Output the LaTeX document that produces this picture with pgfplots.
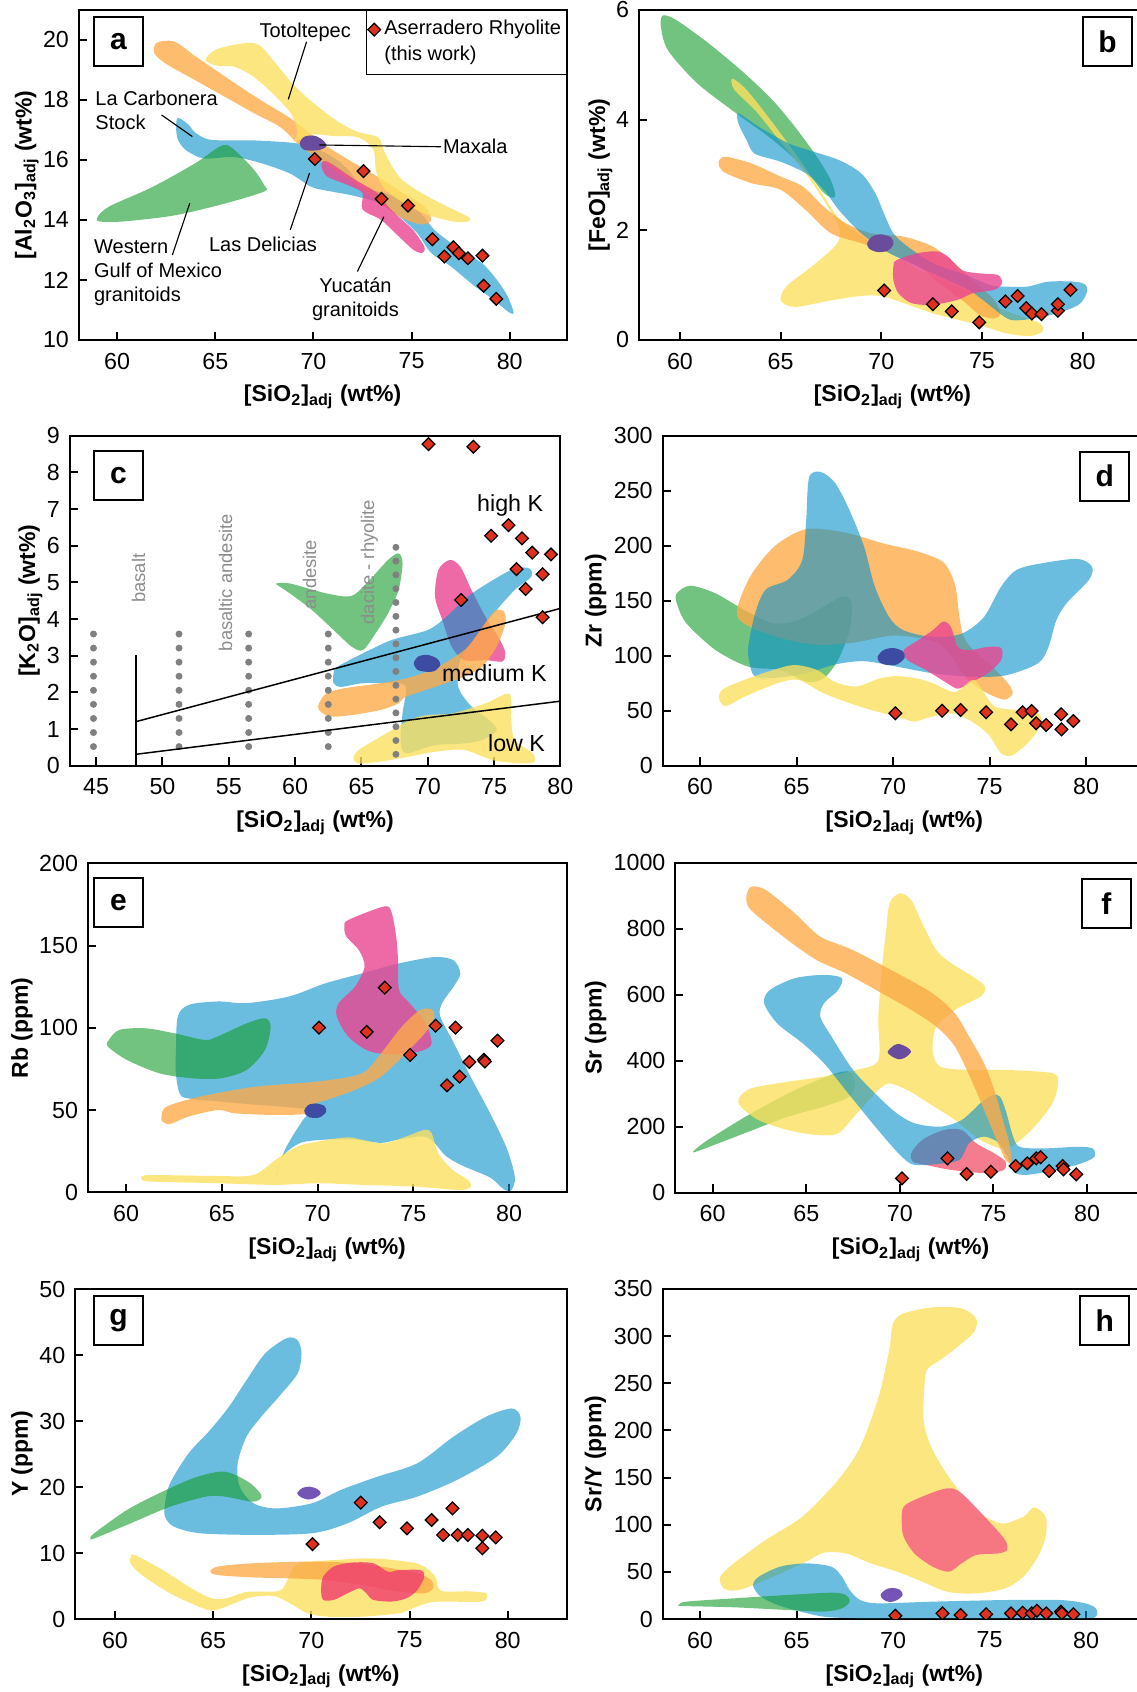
\documentclass[border=0pt]{standalone}
\usepackage{fontspec}
\setmainfont{Liberation Sans}
\usepackage{pgfplots}
\pgfplotsset{compat=1.18}

% field colours
\definecolor{cyel}{HTML}{FBE060}
\definecolor{corg}{HTML}{FCAB4A}
\definecolor{cblu}{HTML}{0891CB}
\definecolor{cgrn}{HTML}{149B2A}
\definecolor{cpnk}{HTML}{EA4591}
\definecolor{csal}{HTML}{F15B72}
\definecolor{cros}{HTML}{EF3B6F}
\definecolor{crsh}{HTML}{F55A84}
\definecolor{cpur}{HTML}{6A4C9C}
\definecolor{cind}{HTML}{3E4BA2}
\definecolor{cvio}{HTML}{7455B5}
\definecolor{cred}{HTML}{E0301E}
\definecolor{cdot}{HTML}{808080}
\definecolor{clab}{HTML}{8C8C8C}

\newcommand\annfont{\fontsize{8}{9.6}\selectfont}
\newcommand\kfont{\fontsize{9.3}{11}\selectfont}
\newcommand\rockfont{\fontsize{7.35}{8.8}\selectfont}

\tikzset{
  lead/.style={line width=0.45pt, black},
  ann/.style={font=\annfont, inner sep=0pt},
  lbl/.style={draw, line width=0.8pt, fill=white, minimum width=19.6pt,
    minimum height=19.6pt, inner sep=0pt, font=\bfseries\fontsize{12}{12}\selectfont},
}

\pgfplotsset{
  panel/.style={
    scale only axis, anchor=south west,
    axis line style={line width=0.8pt},
    every tick/.style={black, line width=0.8pt},
    major tick length=3.3pt,
    tick pos=left, tick align=inside,
    scaled ticks=false,
    /pgf/number format/assume math mode=true,
    /pgf/number format/1000 sep={},
    ticklabel style={font=\fontsize{9.3}{11}\selectfont},
    xticklabel style={yshift=-1.6pt},
    yticklabel style={xshift=-0.4pt},
    xlabel={[SiO\textsubscript{2}]\textsubscript{adj} (wt\%)},
    label style={font=\bfseries\fontsize{9.2}{11}\selectfont},
    xlabel style={at={(axis description cs:0.5,0)}, anchor=base, yshift=-24.8pt},
    clip=true,
  },
  % translucent fields: light ones at 80%, the blue and green ones at 60%
  blob/.style={forget plot, draw=none, fill=#1, fill opacity=0.8, smooth cycle},
  veil/.style={forget plot, draw=none, fill=#1, fill opacity=0.6, smooth cycle},
  core/.style={forget plot, draw=none, fill=#1, smooth cycle},
  samp/.style={only marks, mark=square*, mark size=1.8pt,
    mark options={rotate=45, fill=cred, draw=black, line width=0.5pt}},
}

\begin{document}
\begin{tikzpicture}[x=0.4pt, y=0.4pt]
\useasboundingbox (0,0) rectangle (1137,1692);
\clip (0,0) rectangle (1137,1692);

% ---------------- (a) Al2O3 ----------------
\begin{axis}[panel, at={(31.48pt,540.8pt)}, width=195.16pt, height=132pt,
  xmin=58.04, xmax=82.9, ymin=10, ymax=21,
  xtick={60,65,...,80}, ytick={10,12,...,20},
  ylabel={[Al\textsubscript{2}O\textsubscript{3}]\textsubscript{adj} (wt\%)},
  ylabel style={at={(axis description cs:-0.0967,0.5)}, anchor=base},
  legend style={at={(1,1)}, anchor=north east, draw=black, line width=0.4pt,
    fill=none, inner xsep=0.5pt, inner ysep=2.5pt, font=\annfont,
    nodes={inner sep=1.5pt}},
  legend cell align=left,
  legend image code/.code={\draw[#1] plot coordinates {(0pt,0pt)};}]
\addplot[veil=cblu] coordinates {(63.1,17.4) (63.6,17.2) (64.0,16.9) (64.8,16.67) (67.0,16.65) (69.2,16.55) (70.3,16.33) (71.2,16.0) (71.8,15.65) (72.5,15.1) (73.6,14.9) (74.7,14.65) (75.5,14.2) (76.2,13.65) (77.3,13.1) (78.6,12.55) (79.35,12.0) (79.9,11.45) (80.2,10.9) (79.9,10.95) (79.2,11.33) (78.2,11.8) (77.0,12.45) (76.0,12.9) (75.3,13.55) (74.4,14.1) (73.4,14.55) (72.1,14.8) (70.9,14.95) (69.9,15.1) (68.8,15.55) (67.3,15.9) (65.9,16.1) (64.4,16.05) (63.5,16.33) (63.1,16.67) (63.0,17.1)};
\addplot[veil=cgrn] coordinates {(59.0,14.1) (59.6,14.45) (61.8,15.1) (64.0,15.9) (65.1,16.4) (65.6,16.5) (66.2,16.2) (67.0,15.65) (67.5,15.15) (67.5,14.95) (65.5,14.55) (62.9,14.15) (60.3,13.95) (59.1,13.95)};
\addplot[blob=corg] coordinates {(62.0,19.9) (62.9,19.95) (64.0,19.45) (65.9,18.6) (67.3,18.0) (68.8,17.4) (69.7,16.95) (70.7,16.45) (71.8,16.0) (73.25,15.45) (74.55,14.9) (75.65,14.45) (76.0,14.0) (75.5,13.85) (74.4,14.1) (72.9,14.8) (71.8,15.35) (70.3,16.0) (69.2,16.55) (68.3,17.1) (67.0,17.55) (65.5,18.1) (64.0,18.65) (62.5,19.2) (61.9,19.55)};
\addplot[blob=cyel] coordinates {(64.5,19.35) (65.1,19.7) (66.6,19.9) (67.3,19.8) (68.1,19.2) (69.0,18.5) (70.0,17.9) (71.2,17.3) (72.2,16.95) (73.3,16.75) (73.6,16.3) (74.0,15.8) (74.5,15.35) (75.5,14.9) (76.8,14.45) (77.9,14.1) (77.9,13.95) (77.1,13.95) (75.7,14.2) (74.4,14.65) (73.6,15.05) (73.2,15.6) (73.05,16.35) (72.3,16.75) (71.0,16.8) (69.9,16.85) (69.0,16.6) (69.2,16.9) (68.9,17.5) (68.1,18.1) (67.0,18.75) (66.0,19.1) (65.0,19.15)};
\addplot[blob=cpnk] coordinates {(70.5,15.95) (70.85,15.9) (72.1,15.35) (73.25,14.9) (73.8,14.45) (74.35,14.1) (75.1,13.65) (75.65,13.1) (75.55,12.9) (75.1,13.0) (74.35,13.45) (73.45,14.0) (72.5,14.35) (72.5,14.9) (71.8,15.15) (70.7,15.45) (70.4,15.8)};
\addplot[core=cpur] coordinates {(69.3,16.55) (69.55,16.78) (70.1,16.8) (70.55,16.62) (70.65,16.45) (70.3,16.33) (69.55,16.33)};
\addplot[samp] coordinates {(70.07,16.03) (72.55,15.63) (73.47,14.70) (74.82,14.48) (76.06,13.36) (76.67,12.78) (77.13,13.09) (77.41,12.89) (77.87,12.72) (78.61,12.81) (78.67,11.81) (79.32,11.37)};
\addlegendentry{Aserradero Rhyolite}
\addlegendimage{empty legend}
\addlegendentry{(this work)}
% labels of the fields and their leader lines
\draw[lead] (axis cs:69.65,19.94) -- (axis cs:68.72,18.02);
\draw[lead] (axis cs:62.26,17.5) -- (axis cs:63.83,16.78);
\draw[lead] (axis cs:70.3,16.5) -- (axis cs:76.49,16.44);
\draw[lead] (axis cs:68.82,13.67) -- (axis cs:69.8,15.56);
\draw[lead] (axis cs:62.81,12.83) -- (axis cs:63.7,14.56);
\draw[lead] (axis cs:72.24,12.28) -- (axis cs:73.59,14.11);
\node[ann, anchor=base] at (axis cs:69.58,20.09) {Totoltepec};
\node[ann, anchor=base west] at (axis cs:58.87,17.8) {La Carbonera};
\node[ann, anchor=base west] at (axis cs:58.87,17.02) {Stock};
\node[ann, anchor=base west] at (axis cs:76.58,16.22) {Maxala};
\node[ann, anchor=base west] at (axis cs:64.66,12.94) {Las Delicias};
\node[ann, anchor=base west] at (axis cs:58.8,12.87) {Western};
\node[ann, anchor=base west] at (axis cs:58.8,12.09) {Gulf of Mexico};
\node[ann, anchor=base west] at (axis cs:58.8,11.28) {granitoids};
\node[ann, anchor=base] at (axis cs:72.14,11.58) {Yucatán};
\node[ann, anchor=base] at (axis cs:72.14,10.78) {granitoids};
\end{axis}

% ---------------- (b) FeO ----------------
\begin{axis}[panel, at={(255.56pt,540.8pt)}, width=202.84pt, height=132pt,
  xmin=57.96, xmax=83.15, ymin=0, ymax=6,
  xtick={60,65,...,80}, ytick={0,2,4,6},
  ylabel={[FeO]\textsubscript{adj} (wt\%)},
  ylabel style={at={(axis description cs:-0.0667,0.5)}, anchor=base}]
\addplot[veil=cgrn] coordinates {(59.15,5.9) (59.8,5.82) (61.4,5.4) (63.2,4.85) (64.6,4.36) (65.7,3.88) (66.8,3.33) (67.5,2.9) (67.7,2.6) (67.15,2.67) (66.1,3.15) (64.6,3.64) (62.8,4.12) (60.85,4.67) (59.4,5.27) (59.05,5.7)};
\addplot[blob=cyel] coordinates {(62.6,4.75) (63.3,4.55) (64.6,3.95) (65.9,3.3) (67.0,2.7) (67.8,2.25) (68.6,2.0) (69.4,1.8) (70.6,1.55) (72.0,1.25) (73.5,1.0) (74.8,0.8) (75.7,0.6) (77.0,0.42) (77.9,0.3) (78.0,0.15) (77.3,0.07) (76.1,0.13) (74.9,0.27) (72.6,0.48) (70.2,0.78) (69.0,0.8) (67.5,0.72) (65.7,0.6) (65.0,0.72) (65.3,0.98) (66.6,1.35) (67.8,1.75) (67.9,2.05) (67.3,2.45) (66.2,3.05) (65.0,3.6) (63.8,4.15) (62.7,4.55)};
\addplot[blob=corg] coordinates {(61.95,3.27) (62.3,3.33) (63.55,3.21) (65.0,2.97) (66.1,2.79) (67.15,2.42) (68.25,2.12) (69.5,1.94) (71.1,1.88) (72.55,1.7) (73.65,1.39) (74.7,1.03) (75.6,0.73) (75.9,0.48) (75.6,0.39) (74.9,0.45) (74.2,0.67) (73.1,0.97) (71.85,1.33) (70.4,1.58) (69.0,1.76) (67.5,1.94) (66.25,2.36) (65.0,2.73) (63.55,2.85) (62.3,3.03) (61.95,3.15)};
\addplot[veil=cblu] coordinates {(62.9,4.12) (63.9,3.88) (65.35,3.58) (66.4,3.45) (67.9,3.27) (69.0,3.03) (69.7,2.67) (70.2,2.24) (70.6,1.94) (71.3,1.7) (72.6,1.39) (74.0,1.21) (75.4,1.0) (76.2,0.97) (77.25,0.97) (78.3,1.06) (79.6,1.06) (80.15,1.0) (80.2,0.85) (79.8,0.64) (78.7,0.48) (77.4,0.38) (76.5,0.36) (76.0,0.45) (75.25,0.67) (74.35,0.91) (73.3,1.09) (71.85,1.33) (70.4,1.58) (69.0,1.94) (67.9,2.36) (67.15,2.73) (66.25,3.03) (65.0,3.24) (63.7,3.39) (63.3,3.64) (62.9,3.94)};
\addplot[blob=cpnk] coordinates {(70.6,1.33) (70.75,1.45) (71.85,1.58) (72.75,1.61) (73.3,1.52) (74.0,1.27) (74.9,1.21) (75.8,1.18) (76.0,1.03) (75.6,0.91) (74.55,0.85) (73.8,0.73) (72.55,0.64) (71.5,0.67) (70.85,0.85) (70.6,1.09)};
\addplot[core=cpur] coordinates {(69.3,1.76) (69.55,1.88) (70.0,1.92) (70.5,1.86) (70.6,1.74) (70.3,1.62) (69.8,1.6) (69.4,1.66)};
\addplot[samp] coordinates {(70.14,0.90) (72.56,0.65) (73.50,0.52) (74.86,0.32) (76.16,0.70) (76.77,0.80) (77.20,0.58) (77.48,0.48) (77.96,0.47) (78.77,0.53) (78.77,0.65) (79.40,0.91)};
\end{axis}

% ---------------- (c) K2O ----------------
\begin{axis}[panel, at={(27.84pt,370.52pt)}, width=196.32pt, height=132pt,
  xmin=43, xmax=80, ymin=0, ymax=9,
  xtick={45,50,...,80}, ytick={0,...,9},
  ylabel={[K\textsubscript{2}O]\textsubscript{adj} (wt\%)},
  ylabel style={at={(axis description cs:-0.0703,0.5)}, anchor=base}]
\addplot[veil=cgrn] coordinates {(58.6,4.97) (59.6,4.97) (62.35,4.7) (64.25,4.63) (65.6,5.06) (67.0,5.61) (67.8,5.79) (68.1,5.52) (67.8,4.79) (67.0,4.15) (65.9,3.52) (65.1,3.15) (64.25,3.25) (62.9,3.7) (61.25,4.25) (59.6,4.7) (58.65,4.93)};
\addplot[blob=cpnk] coordinates {(70.55,4.61) (70.8,5.34) (71.65,5.61) (72.45,5.43) (73.3,4.79) (74.35,4.06) (75.45,3.43) (75.85,3.06) (75.6,2.84) (74.35,2.88) (72.75,2.88) (71.8,3.25) (71.1,3.97)};
\addplot[veil=cblu] coordinates {(62.9,2.52) (63.2,2.7) (65.1,3.06) (67.3,3.43) (70.0,3.7) (71.4,4.06) (73.0,4.61) (74.9,5.06) (76.55,5.38) (77.65,5.38) (77.8,5.15) (76.55,4.79) (75.2,4.25) (73.8,3.61) (72.45,2.88) (72.3,2.15) (73.3,1.61) (74.6,1.25) (75.2,0.97) (74.1,0.7) (72.5,0.6) (70.55,0.56) (68.35,0.34) (67.95,0.7) (68.1,1.43) (68.35,2.15) (67.3,2.25) (65.1,2.25) (63.45,2.15) (62.9,2.25)};
\addplot[blob=corg] coordinates {(61.8,1.7) (62.35,1.97) (63.7,2.11) (66.45,2.25) (68.35,2.38) (70.55,2.65) (72.75,3.15) (73.8,3.61) (74.65,4.06) (75.2,4.25) (75.75,4.2) (75.85,3.88) (75.2,3.25) (74.1,2.7) (72.75,2.43) (70.55,2.15) (68.35,1.88) (67.8,1.7) (66.45,1.52) (64.25,1.38) (62.6,1.34) (61.8,1.52)};
\addplot[blob=cyel] coordinates {(64.4,0.2) (64.8,0.43) (66.45,0.79) (68.65,1.25) (70.0,1.38) (71.9,1.43) (74.35,1.7) (76.0,1.97) (76.3,1.79) (76.3,1.25) (76.55,0.7) (77.9,0.34) (78.05,0.11) (77.1,0.06) (74.9,0.15) (72.75,0.43) (70.55,0.38) (68.65,0.25) (66.45,0.11) (64.8,0.06)};
\addplot[core=cind] coordinates {(68.95,2.8) (69.3,2.98) (70.0,3.02) (70.7,2.92) (70.95,2.75) (70.5,2.58) (69.9,2.56) (69.2,2.62)};
% rock-name fields: dotted boundaries
\addplot[forget plot, cdot, line width=2.8pt, line cap=round, dash pattern=on 0pt off 5.63pt] coordinates {(44.8,0.52) (44.8,3.605)};
\addplot[forget plot, cdot, line width=2.8pt, line cap=round, dash pattern=on 0pt off 5.63pt] coordinates {(51.25,0.52) (51.25,3.605)};
\addplot[forget plot, cdot, line width=2.8pt, line cap=round, dash pattern=on 0pt off 5.63pt] coordinates {(56.5,0.52) (56.5,3.605)};
\addplot[forget plot, cdot, line width=2.8pt, line cap=round, dash pattern=on 0pt off 5.63pt] coordinates {(62.5,0.52) (62.5,3.605)};
\addplot[forget plot, cdot, line width=2.8pt, line cap=round, dash pattern=on 0pt off 5.52pt] coordinates {(67.6,0.31) (67.6,5.985)};
% K-series boundaries
\addplot[forget plot, black, line width=0.6pt] coordinates {(48,1.2) (80,4.29)};
\addplot[forget plot, black, line width=0.6pt] coordinates {(48,0.31) (80,1.76)};
\addplot[forget plot, black, line width=0.9pt] coordinates {(48,0) (48,3.02)};
\addplot[samp] coordinates {(70.05,8.77) (73.44,8.70) (72.51,4.52) (74.78,6.27) (76.09,6.56) (76.69,5.36) (77.10,6.20) (77.38,4.82) (77.87,5.81) (78.66,5.22) (78.66,4.05) (79.29,5.76)};
\node[rotate=90, anchor=base west, inner sep=0pt, text=clab, font=\rockfont] at (axis cs:48.69,4.43) {basalt};
\node[rotate=90, anchor=base west, inner sep=0pt, text=clab, font=\rockfont] at (axis cs:55.25,3.11) {basaltic andesite};
\node[rotate=90, anchor=base west, inner sep=0pt, text=clab, font=\rockfont] at (axis cs:61.58,4.25) {andesite};
\node[rotate=90, anchor=base west, inner sep=0pt, text=clab, font=\rockfont] at (axis cs:65.95,3.84) {dacite - rhyolite};
\node[anchor=base west, inner sep=0pt, font=\kfont] at (axis cs:73.69,6.93) {high K};
\node[anchor=base west, inner sep=0pt, font=\kfont] at (axis cs:71.04,2.29) {medium K};
\node[anchor=base west, inner sep=0pt, font=\kfont] at (axis cs:74.51,0.38) {low K};
\end{axis}

% ---------------- (d) Zr ----------------
\begin{axis}[panel, at={(265pt,370.52pt)}, width=193.4pt, height=132pt,
  xmin=58.06, xmax=83.1, ymin=0, ymax=300,
  xtick={60,65,...,80}, ytick={0,50,...,300},
  ylabel={Zr (ppm)},
  ylabel style={at={(axis description cs:-0.126,0.5)}, anchor=base}]
\addplot[veil=cgrn] coordinates {(58.8,156.7) (59.5,163.6) (60.8,156.7) (62.3,141.5) (63.8,129.4) (65.1,132.4) (66.4,144.5) (67.35,153.6) (67.85,149.1) (67.75,123.3) (67.15,96.1) (66.4,79.4) (65.5,76.4) (64.15,87.0) (62.5,90.0) (60.8,105.2) (59.3,129.4) (58.8,147.6)};
\addplot[blob=corg] coordinates {(61.9,140) (62.6,172) (63.9,200) (65.5,215) (67.5,212) (69.5,202) (71.2,195) (72.6,185) (73.2,165) (73.4,140) (73.6,120) (74.0,108) (75.0,92) (75.9,76) (76.2,66) (75.8,60) (75.1,64) (74.3,72) (73.6,84) (73.0,100) (72.3,112) (71.0,117) (69.8,118) (68.0,112) (66.0,110) (64.0,117) (62.4,128)};
\addplot[veil=cblu] coordinates {(62.5,108) (62.85,138) (63.4,160) (64.55,169) (65.3,187) (65.5,223) (65.65,262) (66.25,267) (67.0,257) (67.75,232) (68.5,199) (69.05,163) (69.8,135) (70.55,123) (72.05,117) (73.55,120) (74.7,135) (75.6,163) (76.4,178) (77.7,184) (79.55,188) (80.3,181) (80.15,169) (79.0,148) (78.45,132) (78.05,108) (77.5,93) (75.8,82) (73.95,81) (72.05,84) (70.2,90) (68.5,95) (67.0,92) (65.5,84) (64.0,80) (62.85,81) (62.55,95)};
\addplot[blob=cpnk] coordinates {(70.55,105) (71.3,114) (72.05,123) (72.6,131) (73.0,126) (73.35,108) (73.95,105) (74.9,108) (75.6,107) (75.6,96) (74.9,84) (73.95,75) (73.35,70) (72.8,75) (71.7,87) (70.75,96)};
\addplot[blob=cyel] coordinates {(61.0,60) (61.15,69) (62.3,78) (63.8,87) (64.9,91.5) (66.05,87) (67.0,76) (68.1,72) (69.25,79) (70.2,81.5) (71.3,79) (72.05,75) (73.2,67) (74.1,78) (74.5,72) (75.25,54) (76.4,50.6) (77.5,47.6) (77.7,38.5) (77.1,23) (76.2,9.7) (75.6,11.2) (74.9,29) (73.95,41.5) (73.0,47.6) (71.7,43) (71.1,40) (70.2,44.5) (68.3,53.6) (66.4,65.8) (65.1,78) (64.0,74.8) (62.3,62.7) (61.35,54.2)};
\addplot[core=cind] coordinates {(69.2,99) (69.5,105) (70.0,107) (70.5,104) (70.6,98) (70.2,92) (69.7,91.5) (69.3,94)};
\addplot[samp] coordinates {(70.12,47.6) (72.54,50.0) (73.50,50.6) (74.82,48.5) (76.11,37.6) (76.71,48.5) (77.18,49.7) (77.41,38.5) (77.93,37.0) (78.70,46.7) (78.72,33.0) (79.34,40.6)};
\end{axis}

% ---------------- (e) Rb ----------------
\begin{axis}[panel, at={(35.12pt,199.88pt)}, width=191.52pt, height=131.6pt,
  xmin=58.0, xmax=83.0, ymin=0, ymax=200,
  xtick={60,65,...,80}, ytick={0,50,...,200},
  ylabel={Rb (ppm)},
  ylabel style={at={(axis description cs:-0.1253,0.5)}, anchor=base}]
\addplot[veil=cblu] coordinates {(62.6,86) (62.7,107) (63.3,114) (64.8,116) (66.3,115) (68.5,119) (70.4,127) (72.3,133) (74.2,139) (76.1,143) (77.1,141) (77.45,133) (77.1,125) (76.5,115) (76.4,107) (77.1,91) (78.0,70) (79.1,46) (79.9,26) (80.3,9) (80.1,1) (79.7,2) (79.0,9) (77.6,16) (76.7,22) (76.1,30) (75.5,34) (74.2,32) (73.3,30) (72.0,32) (70.4,32) (69.1,30) (68.2,22) (67.8,8) (68.3,26) (69.3,45) (69.8,50) (66,54) (63.3,57) (62.8,60) (62.6,72)};
\addplot[veil=cgrn] coordinates {(59.1,92.6) (59.65,98.7) (61.0,99.7) (62.5,96.7) (64.1,92.6) (64.75,94.6) (66.3,102.7) (67.25,105.8) (67.55,100.7) (67.25,86.5) (66.3,74.4) (64.95,69.3) (63.45,69.3) (61.75,72.3) (60.05,80.4) (59.05,88.6)};
\addplot[blob=cpnk] coordinates {(71.4,161.5) (71.6,165.5) (73.45,173.7) (73.85,170.6) (74.1,155.4) (74.2,141.2) (74.25,123) (74.8,115) (75.65,102.7) (75.95,90.6) (75.55,86.5) (74.8,84.5) (73.45,84.1) (72.55,86.5) (71.6,94.6) (71.0,106.8) (71.1,115) (71.95,125) (72.45,137.2) (72.15,147.3) (71.5,155.4)};
\addplot[blob=corg] coordinates {(61.85,46) (62.1,52) (63.8,58) (66.65,64) (69.7,67) (71.6,70) (72.55,74) (73.45,86.5) (74.4,100.7) (75.35,110.8) (75.95,111.2) (76.1,106.8) (75.75,98.7) (74.6,84.5) (73.3,70.3) (71.95,62.2) (70.45,56) (69.9,54) (69.5,48) (67.8,47) (65.7,48) (64.8,50) (63.25,46) (62.3,41.5) (61.9,43)};
\addplot[blob=cyel] coordinates {(60.8,9.5) (61.35,10.5) (64.75,9.9) (66.65,10.5) (67.8,19.7) (68.95,27.8) (70.45,31.8) (71.6,33.4) (72.35,31.8) (73.45,29.8) (74.6,33.8) (75.55,37.9) (75.95,35.9) (76.3,23.7) (77.05,13.6) (77.85,7.5) (78.0,3.4) (77.45,1.4) (75.15,3.4) (72.35,4.5) (70.05,5.5) (67.8,4.5) (64.75,5.5) (61.35,6.5) (60.85,7.5)};
\addplot[core=cind] coordinates {(69.3,49.6) (69.5,53) (69.9,54) (70.35,52.5) (70.45,49) (70.1,45.5) (69.6,45.5) (69.35,47.5)};
\addplot[samp] coordinates {(70.07,100.1) (72.56,97.5) (73.51,124.4) (74.83,83.5) (76.16,101.3) (76.75,65.0) (77.20,100.1) (77.41,70.3) (77.92,79.2) (78.68,80.5) (78.73,79.5) (79.39,92.2)};
\end{axis}

% ---------------- (f) Sr ----------------
\begin{axis}[panel, at={(270.08pt,199.72pt)}, width=188.32pt, height=132pt,
  xmin=58.0, xmax=83.15, ymin=0, ymax=1000,
  xtick={60,65,...,80}, ytick={0,200,...,1000},
  ylabel={Sr (ppm)},
  ylabel style={at={(axis description cs:-0.1565,0.5)}, anchor=base}]
\addplot[veil=cgrn] coordinates {(58.95,124) (59.75,160) (62.05,240) (64.4,311) (66.35,357) (67.3,367) (67.6,331) (67.3,291) (65.95,261) (64.0,230) (61.7,180) (59.35,129)};
\addplot[blob=cyel] coordinates {(61.4,286) (62.05,316) (64.0,336) (65.95,352) (67.7,372) (68.85,402) (68.85,533) (69.05,685) (69.25,786) (69.45,877) (70.0,907) (70.6,887) (71.2,816) (71.95,735) (72.75,695) (73.9,655) (74.55,624) (74.3,594) (72.95,554) (71.95,503) (71.75,432) (72.15,382) (73.7,372) (75.65,372) (78.15,362) (78.45,331) (78.15,271) (77.2,200) (76.2,149) (75.45,134) (74.3,160) (72.95,220) (71.55,271) (70.4,311) (69.45,331) (68.85,311) (67.7,240) (66.7,180) (65.55,175) (64.0,190) (62.45,220) (61.5,261)};
\addplot[blob=csal] coordinates {(70.6,119) (71.2,160) (72.35,190) (73.3,190) (74.1,149) (75.05,119) (75.65,94) (75.55,69) (74.65,59) (72.75,69) (71.4,84) (70.7,94)};
\addplot[veil=cblu] coordinates {(62.75,574) (63.05,614) (64.4,650) (65.95,660) (66.9,650) (66.7,614) (65.95,574) (65.75,533) (66.35,473) (67.5,372) (68.85,291) (69.85,240) (70.8,210) (72.15,200) (73.3,220) (74.3,271) (74.95,296) (75.35,291) (75.65,250) (76.05,170) (76.4,139) (77.6,134) (79.5,139) (80.3,134) (80.4,109) (79.7,89) (78.35,69) (76.8,54) (76.1,62) (75.8,100) (75.3,150) (74.5,170) (73.7,150) (73.2,100) (72.2,88) (70.8,84) (70.2,104) (69.45,149) (68.25,230) (67.1,311) (65.95,392) (64.8,453) (63.45,513)};
\addplot[blob=corg] coordinates {(61.8,897) (62.05,927) (62.85,917) (64.4,846) (65.75,776) (67.5,735) (69.85,665) (71.75,604) (72.95,543) (73.7,473) (74.5,392) (75.05,311) (75.45,230) (75.85,149) (75.95,94) (75.65,99) (75.25,149) (74.65,230) (73.9,331) (72.95,442) (71.95,503) (70.6,554) (69.05,604) (67.1,665) (65.55,705) (64.0,766) (62.45,836) (61.9,867)};
\addplot[core=cpur] coordinates {(69.35,427) (69.7,447) (70.0,450) (70.4,440) (70.6,427) (70.3,410) (69.95,404) (69.6,412)};
\addplot[samp] coordinates {(70.12,43.4) (72.54,104.0) (73.57,56.6) (74.86,63.6) (76.18,80.8) (76.80,88.9) (77.29,104.0) (77.52,107.1) (77.97,65.7) (78.70,80.8) (78.74,70.7) (79.42,55.6)};
\end{axis}

% ---------------- (g) Y ----------------
\begin{axis}[panel, at={(30.04pt,29.2pt)}, width=196.6pt, height=132pt,
  xmin=57.97, xmax=83.0, ymin=0, ymax=50,
  xtick={60,65,...,80}, ytick={0,10,...,50},
  ylabel={Y (ppm)},
  ylabel style={at={(axis description cs:-0.0962,0.5)}, anchor=base}]
\addplot[veil=cblu] coordinates {(62.55,17.5) (62.8,20.55) (63.75,25.1) (64.85,28.65) (65.8,32.15) (66.7,36.2) (67.65,40.25) (68.75,42.55) (69.3,42.25) (69.5,40.25) (69.3,37.2) (68.35,33.7) (67.45,30.65) (66.7,27.65) (66.25,23.6) (66.35,20.05) (67.05,17.55) (68.2,16.75) (70.05,17.55) (71.5,19.55) (73.35,21.55) (75.4,23.6) (77.25,27.65) (78.9,30.65) (80.2,31.9) (80.65,30.65) (80.45,28.15) (79.45,24.6) (77.4,21.05) (75.4,18.55) (73.55,17.0) (71.85,14.5) (70.05,13.0) (67.05,12.75) (64.3,13.0) (63.0,14.0) (62.55,15.5)};
\addplot[veil=cgrn] coordinates {(58.75,12.2) (58.95,13.0) (60.6,16.5) (62.25,19.05) (63.95,21.3) (65.25,22.3) (65.95,22.05) (66.9,20.55) (67.45,18.8) (67.35,18.05) (66.9,17.8) (65.6,18.55) (64.65,18.55) (62.8,17.0) (60.8,14.5) (58.95,12.2)};
\addplot[blob=cyel] coordinates {(60.8,9.4) (61.0,9.7) (62.45,7.4) (63.75,4.9) (64.85,3.2) (65.6,3.1) (66.7,4.1) (67.65,4.15) (68.5,4.5) (69.2,8.2) (70.0,8.7) (71.5,9.0) (72.8,9.2) (74.0,9.0) (75.5,8.3) (76.3,6.5) (76.6,4.3) (78.0,4.2) (78.9,3.9) (78.9,3.0) (78.5,2.6) (76.3,2.6) (75.4,1.9) (74.5,0.9) (72.6,0.35) (70.8,0.35) (69.8,0.9) (68.9,2.4) (68.2,3.4) (67.5,3.5) (66.7,3.1) (65.2,1.4) (64.5,1.6) (62.8,3.9) (61.35,6.7) (60.8,8.4)};
\addplot[blob=corg] coordinates {(64.85,7.15) (65.25,7.95) (67.05,8.45) (69.85,8.7) (71.7,8.55) (73.55,7.95) (75.4,6.9) (76.1,5.9) (76.2,4.65) (75.75,3.9) (74.45,4.15) (72.6,5.15) (70.75,5.9) (68.9,6.15) (67.05,6.3) (65.25,6.65)};
\addplot[blob=cros] coordinates {(70.5,4.4) (70.6,6.4) (71.15,7.95) (72.05,8.55) (73.15,8.45) (73.9,7.15) (74.45,7.4) (75.55,7.4) (75.75,6.4) (75.4,4.4) (74.85,3.15) (74.1,2.65) (73.15,2.9) (72.8,3.9) (72.45,4.65) (71.85,3.9) (71.15,2.9) (70.6,2.9)};
\addplot[core=cvio] coordinates {(69.28,19.05) (69.55,19.85) (69.9,20.05) (70.3,19.7) (70.48,19.05) (70.2,18.35) (69.85,18.1) (69.5,18.4)};
\addplot[samp] coordinates {(70.06,11.36) (72.52,17.63) (73.48,14.65) (74.87,13.74) (76.12,15.00) (76.71,12.73) (77.19,16.77) (77.45,12.73) (77.97,12.73) (78.71,12.63) (78.71,10.71) (79.39,12.37)};
\end{axis}

% ---------------- (h) Sr/Y ----------------
\begin{axis}[panel, at={(265pt,29.2pt)}, width=193.4pt, height=132pt,
  xmin=58.06, xmax=83.1, ymin=0, ymax=350,
  xtick={60,65,...,80}, ytick={0,50,...,350},
  clip marker paths=true,
  ylabel={Sr/Y (ppm)},
  ylabel style={at={(axis description cs:-0.1262,0.5)}, anchor=base}]
\addplot[blob=cyel] coordinates {(61.15,34.3) (61.05,44.9) (61.75,59) (63.4,83.8) (65.3,108.5) (67.15,147.4) (68.3,182.7) (69.25,235.8) (69.8,285.3) (70.0,313.5) (70.55,324.1) (72.05,330.5) (73.55,329.4) (74.3,318.8) (74.2,304.7) (73.35,288.8) (72.45,274.7) (71.75,264.1) (71.6,239.3) (71.6,207.5) (72.05,179.2) (73.0,147.4) (74.3,115.6) (75.6,101.4) (76.75,108.5) (77.3,118.4) (77.9,108.5) (77.9,87.3) (77.5,66.1) (76.75,44.9) (75.8,32.5) (74.3,27.2) (72.8,29) (71.3,41.4) (70.2,50.2) (68.85,59) (67.55,69.6) (66.4,70.3) (65.5,60.8) (63.8,44.9) (62.3,32.5) (61.55,30)};
\addplot[blob=crsh] coordinates {(70.45,101.4) (70.55,119.1) (71.5,129.7) (72.8,138.6) (73.55,133.3) (74.9,105) (75.8,83.8) (75.9,73.2) (75.45,69.6) (74.3,67.9) (73.55,59) (72.9,50.2) (72.05,55.5) (71.1,69.6) (70.55,87.3)};
\addplot[veil=cblu] coordinates {(62.75,36.1) (63.05,44.9) (64.15,55.5) (65.5,59) (66.8,55.5) (67.35,44.9) (67.75,30.8) (68.3,20.1) (69.25,16.6) (72.05,18.4) (75.8,20.1) (78.65,20.1) (79.95,16.6) (80.5,11.3) (80.5,2.5) (79.55,0.7) (72.05,0.7) (68.3,0.7) (66.4,2.5) (64.9,9.5) (63.8,16.6) (63.05,25.5)};
\addplot[veil=cgrn] coordinates {(58.9,14.8) (59.3,18.4) (61.75,21.9) (64.55,25.5) (66.8,27.9) (67.55,25.5) (67.75,18.4) (67.35,11.3) (66.4,7.8) (64.55,9.5) (61.75,12.4) (59.1,13.8)};
\addplot[core=cvio] coordinates {(69.35,25.5) (69.6,31) (69.95,33) (70.35,31) (70.5,25.5) (70.2,20) (69.85,18) (69.5,20.5)};
\addplot[samp] coordinates {(70.12,3.5) (72.56,6.0) (73.50,4.2) (74.82,5.0) (76.11,6.0) (76.71,6.7) (77.18,6.0) (77.45,8.8) (77.93,6.0) (78.70,7.8) (78.74,6.0) (79.34,5.0)};
\end{axis}

% panel letters
\node[lbl] at (118.45,1650.8) {a};
\node[lbl] at (1107.5,1650.5) {b};
\node[lbl] at (118.45,1216.15) {c};
\node[lbl] at (1104.65,1215.8) {d};
\node[lbl] at (118.45,789.2) {e};
\node[lbl] at (1106.45,788.5) {f};
\node[lbl] at (118.45,371.5) {g};
\node[lbl] at (1104.65,371.5) {h};
\end{tikzpicture}
\end{document}
